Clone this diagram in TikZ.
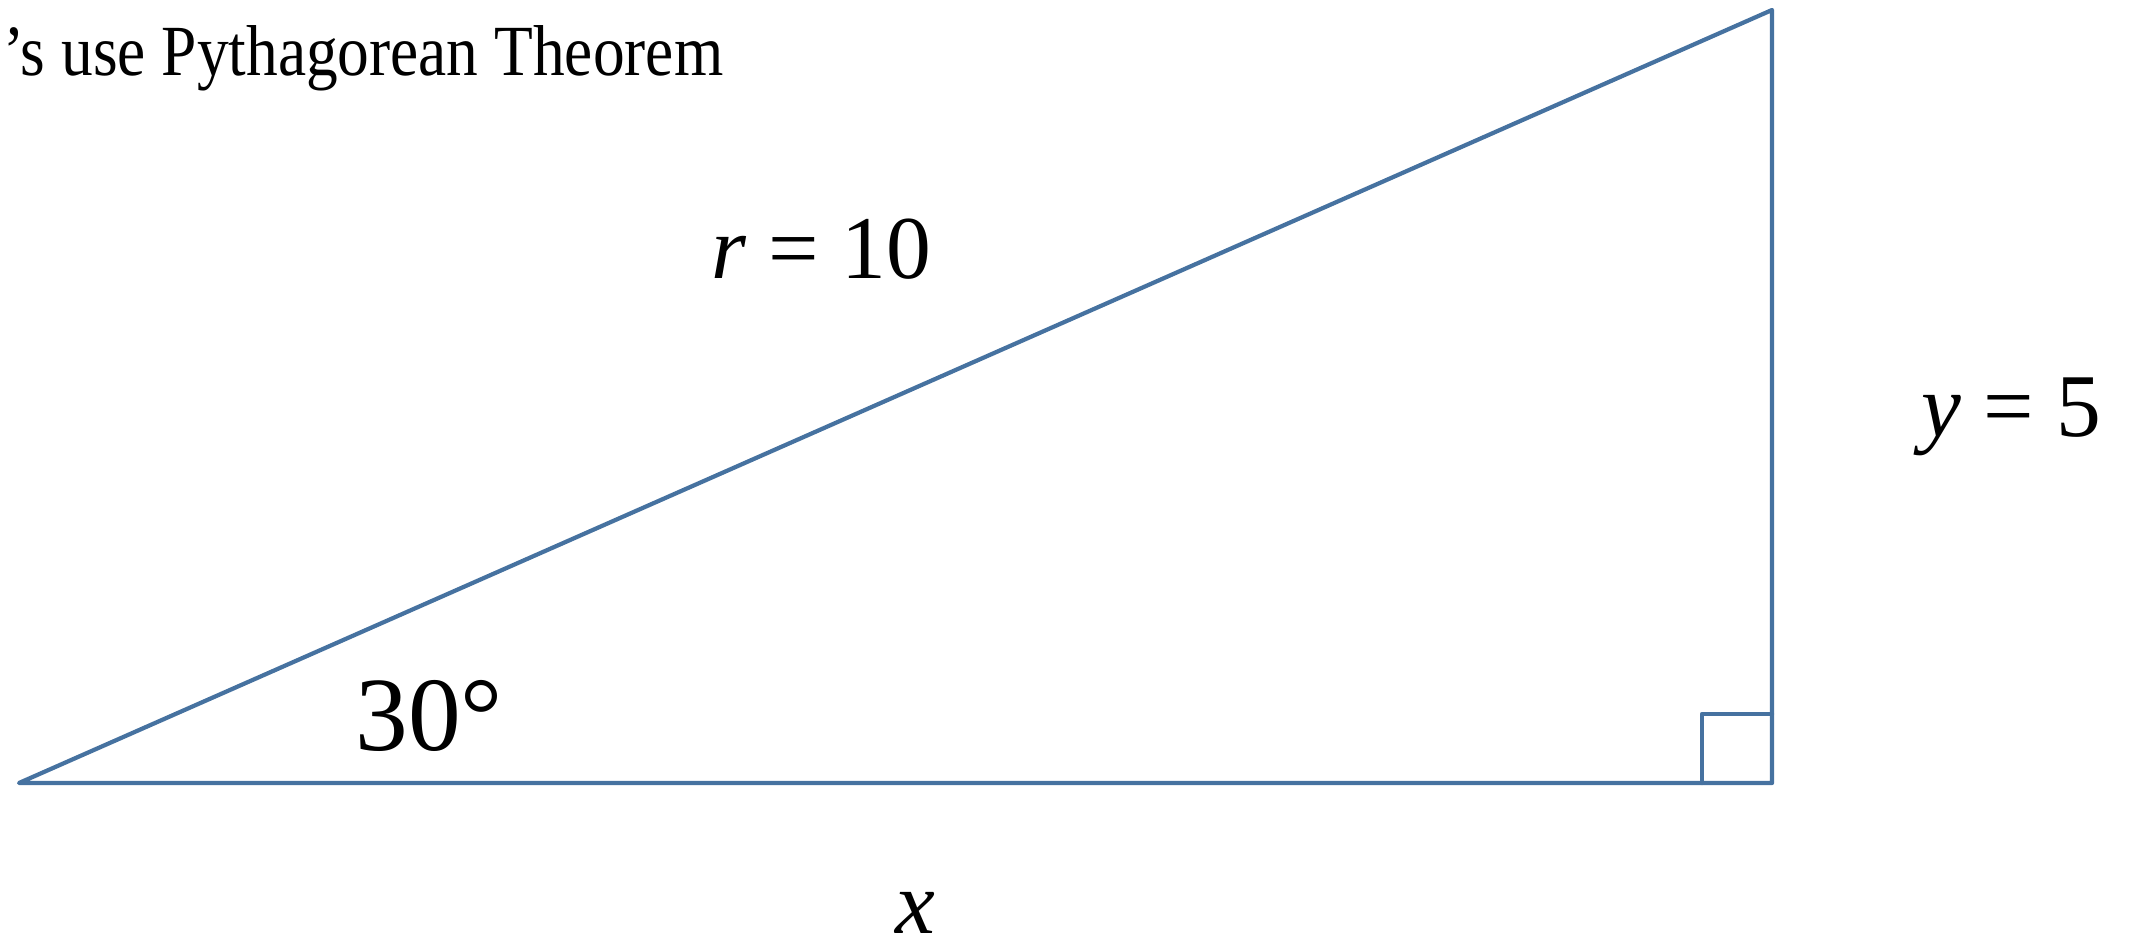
\documentclass[tikz,border=0pt]{standalone}
\usepackage{fontspec}
\setmainfont{Liberation Serif}
\newfontfamily\narrowserif[FakeStretch=0.88]{Liberation Serif}
\definecolor{edgeblue}{RGB}{70,114,160}
\begin{document}
\begin{tikzpicture}[x=0.02cm,y=-0.02cm,
  edge/.style={draw=edgeblue,line width=2.4pt,line join=round,line cap=round},
  lbl/.style={inner sep=0pt,anchor=base west,font=\fontsize{51}{60}\selectfont}]
\useasboundingbox (0,0) rectangle (2129,945);
\coordinate (A) at (19,783);
\coordinate (B) at (1772,783);
\coordinate (C) at (1772,10);
\draw[edge] (A) -- (B) -- (C) -- cycle;
\draw[edge] (1702,783) -- (1702,714) -- (1772,714);
\node[inner sep=0pt,anchor=base west,font=\narrowserif\fontsize{41}{48}\selectfont] (title) at (3,76) {’s use Pythagorean Theorem};
\node[lbl] (rlab) at (711,279) {\textit{r} = 10};
\node[lbl] (ylab) at (1921,437) {\textit{y} = 5};
\node[lbl,font=\fontsize{60}{70}\selectfont] (ang) at (355,750) {30°};
\node[lbl,text depth=0pt] (xlab) at (895,933) {\textit{x}};
\end{tikzpicture}
\end{document}
